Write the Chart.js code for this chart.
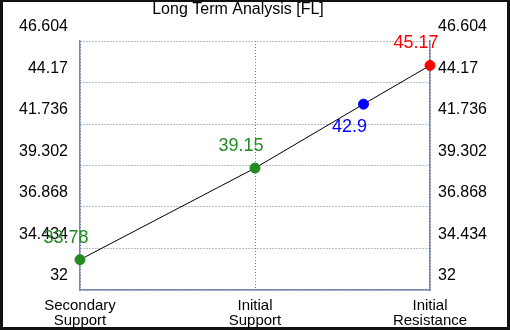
<!DOCTYPE html>
<html>
<head>
<meta charset="utf-8">
<script src="https://cdn.jsdelivr.net/npm/chart.js@4"></script>
<style>
  html, body { margin: 0; padding: 0; background: #fff; }
  #wrap { width: 510px; height: 330px; }
</style>
</head>
<body>
<div id="wrap"><canvas id="myChart" width="510" height="330"></canvas></div>
<script>
// Chart data
const categories = [["Secondary", "Support"], ["Initial", "Support"], ["Initial", "Resistance"]];
const pointX = [0, 1, 1.62, 2];
const pointValues = [33.78, 39.15, 42.9, 45.17];
const pointColors = ['#228b22', '#228b22', '#0000ff', '#ff0000'];
const tickValues = [32, 34.434, 36.868, 39.302, 41.736, 44.17, 46.604];
const tickLabels = ['32', '34.434', '36.868', '39.302', '41.736', '44.17', '46.604'];

// label placement: above the point, blue one below
const labelDy = [-22, -22, 23, -22];

const font = 'Liberation Sans, Arial, sans-serif';

// Frame + title
const framePlugin = {
  id: 'frame',
  beforeDraw(chart) {
    const ctx = chart.ctx;
    ctx.save();
    ctx.fillStyle = '#111';
    ctx.fillRect(0, 0, chart.width, chart.height);
    ctx.fillStyle = '#fff';
    ctx.fillRect(3, 2, chart.width - 6, chart.height - 5);
    ctx.restore();
  },
  afterDraw(chart) {
    const ctx = chart.ctx;
    ctx.save();
    ctx.fillStyle = '#000';
    ctx.font = '16px ' + font;
    ctx.textAlign = 'center';
    ctx.textBaseline = 'middle';
    ctx.fillText('Long Term Analysis [FL]', 238, 10);
    ctx.restore();
  }
};

// Value labels next to points
const valueLabels = {
  id: 'valueLabels',
  afterDatasetsDraw(chart) {
    const ctx = chart.ctx;
    const meta = chart.getDatasetMeta(0);
    ctx.save();
    ctx.font = '18px ' + font;
    ctx.textAlign = 'center';
    ctx.textBaseline = 'middle';
    meta.data.forEach((pt, i) => {
      ctx.fillStyle = pointColors[i];
      ctx.fillText(String(pointValues[i]), pt.x - 14, pt.y + labelDy[i]);
    });
    ctx.restore();
  }
};

const setTicks = axis => {
  axis.ticks = tickValues.map(v => ({ value: v }));
};

const gridStyle = {
  color: '#6f7f9c',
  drawTicks: false
};
const borderStyle = { color: '#7388aa', width: 1.5, dash: [1, 2] };

const myChart = document.getElementById('myChart');

let lineChart = new Chart(myChart, {
  type: 'line',
  data: {
    datasets: [{
      data: pointX.map((x, i) => ({ x: x, y: pointValues[i] })),
      borderColor: '#000',
      borderWidth: 1,
      pointBackgroundColor: pointColors,
      pointBorderColor: pointColors,
      pointRadius: 5,
      tension: 0,
      clip: false
    }]
  },
  options: {
    responsive: false,
    animation: false,
    layout: { padding: { top: 41, left: 0, right: 0, bottom: 0 } },
    plugins: {
      legend: { display: false },
      tooltip: { enabled: false }
    },
    scales: {
      x: {
        type: 'linear',
        min: 0,
        max: 2,
        afterBuildTicks: axis => { axis.ticks = [0, 1, 2].map(v => ({ value: v })); },
        afterFit: axis => { axis.height = 40; },
        grid: gridStyle,
        border: borderStyle,
        ticks: {
          color: '#000',
          font: { family: font, size: 15, lineHeight: 1.0 },
          padding: 8,
          maxRotation: 0,
          autoSkip: false,
          callback: v => categories[v]
        }
      },
      y: {
        position: 'left',
        min: 32,
        max: 46.604,
        afterBuildTicks: setTicks,
        afterFit: axis => { axis.width = 80; },
        grid: gridStyle,
        border: borderStyle,
        ticks: {
          color: '#000',
          font: { family: font, size: 16 },
          padding: 12,
          labelOffset: -14,
          callback: (v, i) => tickLabels[i]
        }
      },
      y2: {
        position: 'right',
        min: 32,
        max: 46.604,
        afterBuildTicks: setTicks,
        afterFit: axis => { axis.width = 80; },
        grid: { display: false },
        border: borderStyle,
        ticks: {
          color: '#000',
          font: { family: font, size: 16 },
          padding: 0,
          labelOffset: -14,
          callback: (v, i) => tickLabels[i]
        }
      }
    }
  },
  plugins: [framePlugin, valueLabels]
});
</script>
</body>
</html>
